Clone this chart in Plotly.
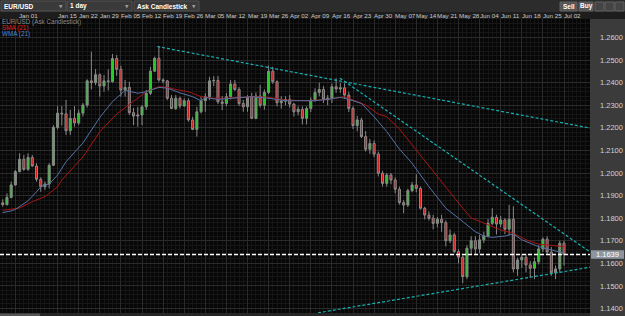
import plotly.graph_objects as go
import pandas as pd

# ---------------- data ----------------
dates = pd.bdate_range("2017-12-27", "2018-07-02")   # trading days shown

opens = [1.1868, 1.1860, 1.1892, 1.1947, 1.2006, 1.2061, 1.2016, 1.2069, 1.2031, 1.1972,
         1.1939, 1.1951, 1.2034, 1.2202, 1.2265, 1.2262, 1.2187, 1.2242, 1.2222, 1.2265,
         1.2301, 1.2408, 1.2400, 1.2435, 1.2385, 1.2408, 1.2405, 1.2507, 1.2459, 1.2367,
         1.2379, 1.2267, 1.2252, 1.2257, 1.2293, 1.2353, 1.2451, 1.2508, 1.2412, 1.2408,
         1.2331, 1.2286, 1.2331, 1.2297, 1.2320, 1.2235, 1.2193, 1.2271, 1.2320, 1.2338,
         1.2408, 1.2410, 1.2315, 1.2308, 1.2338, 1.2394, 1.2370, 1.2308, 1.2293, 1.2335,
         1.2242, 1.2341, 1.2300, 1.2357, 1.2451, 1.2404, 1.2311, 1.2318, 1.2326, 1.2305,
         1.2271, 1.2282, 1.2242, 1.2286, 1.2323, 1.2357, 1.2370, 1.2326, 1.2331, 1.2382,
         1.2372, 1.2377, 1.2345, 1.2286, 1.2210, 1.2235, 1.2161, 1.2105, 1.2131, 1.2084,
         1.1999, 1.1954, 1.1991, 1.1969, 1.1928, 1.1869, 1.1858, 1.1922, 1.1947, 1.1932,
         1.1844, 1.1814, 1.1800, 1.1777, 1.1795, 1.1780, 1.1700, 1.1726, 1.1652, 1.1627,
         1.1541, 1.1667, 1.1700, 1.1664, 1.1704, 1.1721, 1.1777, 1.1804, 1.1774, 1.1792,
         1.1751, 1.1795, 1.1575, 1.1615, 1.1627, 1.1593, 1.1578, 1.1607, 1.1664, 1.1707,
         1.1650, 1.1559, 1.1575, 1.1689]
highs = [1.1884, 1.1910, 1.1962, 1.2013, 1.2087, 1.2080, 1.2087, 1.2080, 1.2043, 1.1981,
         1.1962, 1.2043, 1.2212, 1.2296, 1.2296, 1.2323, 1.2279, 1.2296, 1.2280, 1.2310,
         1.2415, 1.2537, 1.2460, 1.2440, 1.2434, 1.2459, 1.2527, 1.2522, 1.2475, 1.2412,
         1.2404, 1.2288, 1.2293, 1.2300, 1.2367, 1.2470, 1.2515, 1.2562, 1.2419, 1.2412,
         1.2345, 1.2345, 1.2338, 1.2331, 1.2331, 1.2249, 1.2293, 1.2338, 1.2353, 1.2426,
         1.2429, 1.2430, 1.2341, 1.2354, 1.2412, 1.2412, 1.2380, 1.2323, 1.2345, 1.2355,
         1.2357, 1.2390, 1.2370, 1.2476, 1.2470, 1.2410, 1.2340, 1.2340, 1.2345, 1.2310,
         1.2295, 1.2295, 1.2295, 1.2335, 1.2375, 1.2400, 1.2385, 1.2345, 1.2396, 1.2419,
         1.2398, 1.2398, 1.2360, 1.2295, 1.2253, 1.2245, 1.2186, 1.2150, 1.2145, 1.2095,
         1.2010, 1.2000, 1.2000, 1.1980, 1.1940, 1.1880, 1.1930, 1.1960, 1.1995, 1.1940,
         1.1850, 1.1830, 1.1815, 1.1805, 1.1815, 1.1790, 1.1750, 1.1735, 1.1662, 1.1635,
         1.1680, 1.1720, 1.1720, 1.1725, 1.1740, 1.1796, 1.1844, 1.1815, 1.1810, 1.1800,
         1.1858, 1.1852, 1.1625, 1.1640, 1.1640, 1.1610, 1.1625, 1.1680, 1.1715, 1.1720,
         1.1672, 1.1590, 1.1700, 1.1700]
lows = [1.1851, 1.1856, 1.1888, 1.1944, 1.2003, 1.2010, 1.2010, 1.2028, 1.1962, 1.1917,
        1.1925, 1.1932, 1.2031, 1.2193, 1.2210, 1.2168, 1.2168, 1.2205, 1.2212, 1.2250,
        1.2290, 1.2370, 1.2389, 1.2338, 1.2360, 1.2365, 1.2400, 1.2430, 1.2338, 1.2338,
        1.2257, 1.2212, 1.2205, 1.2212, 1.2279, 1.2345, 1.2448, 1.2404, 1.2397, 1.2323,
        1.2283, 1.2279, 1.2286, 1.2293, 1.2227, 1.2190, 1.2161, 1.2264, 1.2271, 1.2323,
        1.2385, 1.2305, 1.2279, 1.2296, 1.2326, 1.2363, 1.2297, 1.2271, 1.2271, 1.2240,
        1.2238, 1.2290, 1.2280, 1.2350, 1.2395, 1.2295, 1.2285, 1.2300, 1.2290, 1.2250,
        1.2255, 1.2215, 1.2215, 1.2270, 1.2315, 1.2340, 1.2310, 1.2300, 1.2310, 1.2355,
        1.2355, 1.2330, 1.2270, 1.2195, 1.2185, 1.2155, 1.2095, 1.2085, 1.2070, 1.1985,
        1.1940, 1.1940, 1.1950, 1.1910, 1.1860, 1.1822, 1.1850, 1.1915, 1.1915, 1.1838,
        1.1795, 1.1790, 1.1750, 1.1760, 1.1740, 1.1675, 1.1690, 1.1645, 1.1600, 1.1512,
        1.1530, 1.1640, 1.1640, 1.1645, 1.1690, 1.1715, 1.1770, 1.1728, 1.1760, 1.1730,
        1.1725, 1.1560, 1.1545, 1.1580, 1.1560, 1.1535, 1.1530, 1.1595, 1.1650, 1.1640,
        1.1545, 1.1530, 1.1560, 1.1590]
closes = [1.1860, 1.1892, 1.1947, 1.2006, 1.2061, 1.2016, 1.2069, 1.2031, 1.1972, 1.1939,
          1.1951, 1.2034, 1.2202, 1.2265, 1.2262, 1.2187, 1.2242, 1.2222, 1.2265, 1.2301,
          1.2408, 1.2400, 1.2435, 1.2385, 1.2408, 1.2405, 1.2507, 1.2459, 1.2367, 1.2379,
          1.2267, 1.2252, 1.2257, 1.2293, 1.2353, 1.2451, 1.2508, 1.2412, 1.2408, 1.2331,
          1.2286, 1.2331, 1.2297, 1.2320, 1.2235, 1.2193, 1.2271, 1.2320, 1.2338, 1.2408,
          1.2410, 1.2315, 1.2308, 1.2338, 1.2394, 1.2370, 1.2308, 1.2293, 1.2335, 1.2242,
          1.2341, 1.2300, 1.2357, 1.2451, 1.2404, 1.2311, 1.2318, 1.2326, 1.2305, 1.2271,
          1.2282, 1.2242, 1.2286, 1.2323, 1.2357, 1.2370, 1.2326, 1.2331, 1.2382, 1.2372,
          1.2377, 1.2345, 1.2286, 1.2210, 1.2235, 1.2161, 1.2105, 1.2131, 1.2084, 1.1999,
          1.1954, 1.1991, 1.1969, 1.1928, 1.1869, 1.1858, 1.1922, 1.1947, 1.1932, 1.1844,
          1.1814, 1.1800, 1.1777, 1.1795, 1.1780, 1.1700, 1.1726, 1.1652, 1.1627, 1.1541,
          1.1667, 1.1700, 1.1664, 1.1704, 1.1721, 1.1777, 1.1804, 1.1774, 1.1792, 1.1751,
          1.1795, 1.1575, 1.1615, 1.1627, 1.1593, 1.1578, 1.1607, 1.1664, 1.1707, 1.1650,
          1.1559, 1.1575, 1.1689, 1.1639]

# SMA(21) and WMA(21) at sample trading-day positions
sma_pos = [0, 4, 7, 10, 13, 14, 19, 23, 27, 31, 34, 37, 39, 41, 44, 47, 50, 53, 59, 63,
           67, 72, 77, 81, 83, 86, 89, 91, 94, 98, 101, 105, 109, 111, 115, 118, 121, 124,
           127, 130, 133]
sma_val = [1.1835, 1.1845, 1.1873, 1.1895, 1.1939, 1.1969, 1.2071, 1.2183, 1.2261, 1.2319,
           1.2360, 1.2382, 1.2379, 1.2370, 1.2360, 1.2338, 1.2331, 1.2331, 1.2338, 1.2335,
           1.2323, 1.2320, 1.2326, 1.2338, 1.2323, 1.2301, 1.2261, 1.2249, 1.2195, 1.2102,
           1.2028, 1.1939, 1.1844, 1.1801, 1.1770, 1.1748, 1.1733, 1.1704, 1.1685, 1.1678,
           1.1674]
wma_pos = [0, 2, 3, 6, 8, 9, 10, 11, 13, 15, 19, 23, 26, 29, 32, 34, 37, 39, 42, 45, 47,
           48, 51, 55, 59, 63, 67, 70, 74, 77, 80, 82, 85, 88, 89, 91, 94, 97, 101, 105, 108,
           110, 112, 114, 116, 119, 121, 123, 127, 130, 132, 133]
wma_val = [1.1825, 1.1832, 1.1839, 1.1877, 1.1917, 1.1938, 1.1947, 1.1951, 1.1991, 1.2050,
           1.2133, 1.2246, 1.2316, 1.2366, 1.2353, 1.2360, 1.2379, 1.2376, 1.2355, 1.2338,
           1.2320, 1.2334, 1.2326, 1.2331, 1.2338, 1.2331, 1.2320, 1.2320, 1.2320, 1.2326,
           1.2335, 1.2326, 1.2308, 1.2249, 1.2227, 1.2183, 1.2106, 1.2043, 1.1939, 1.1844,
           1.1800, 1.1770, 1.1740, 1.1721, 1.1715, 1.1721, 1.1730, 1.1704, 1.1674, 1.1659,
           1.1652, 1.1646]

# hand-drawn trend lines (position, price) pairs
trend_upper = ([36.6, 139.2], [1.2560, 1.2199])
trend_steep = ([79.9, 139.2], [1.2420, 1.1650])
trend_lower = ([74.7, 139.2], [1.1381, 1.1583])

last_price = 1.1639

tick_labels = ["Jan 01", "Jan 15", "Jan 22", "Jan 29", "Feb 05", "Feb 12", "Feb 19", "Feb 26",
               "Mar 05", "Mar 12", "Mar 19", "Mar 26", "Apr 02", "Apr 09", "Apr 16", "Apr 23",
               "Apr 30", "May 07", "May 14", "May 21", "May 28", "Jun 04", "Jun 11", "Jun 18",
               "Jun 25", "Jul 02"]
tick_dates = ["2018-01-01", "2018-01-15", "2018-01-22", "2018-01-29", "2018-02-05",
              "2018-02-12", "2018-02-19", "2018-02-26", "2018-03-05", "2018-03-12",
              "2018-03-19", "2018-03-26", "2018-04-02", "2018-04-09", "2018-04-16",
              "2018-04-23", "2018-04-30", "2018-05-07", "2018-05-14", "2018-05-21",
              "2018-05-28", "2018-06-04", "2018-06-11", "2018-06-18", "2018-06-25",
              "2018-07-02"]

# ---------------- figure ----------------
xpos = list(range(len(dates)))
tick_pos = [dates.get_loc(pd.Timestamp(d)) for d in tick_dates]

W, H = 625, 316
L, R, T, B = 0, 35, 19, 3
pw, ph = W - L - R, H - T - B
FONT = "Liberation Sans, Arial"


def px(x):
    return (x - L) / pw


def py(y):
    return (H - B - y) / ph


fig = go.Figure()

fig.add_trace(go.Candlestick(
    x=xpos, open=opens, high=highs, low=lows, close=closes,
    increasing=dict(line=dict(color="#8a8a8a", width=1), fillcolor="#22d022"),
    decreasing=dict(line=dict(color="#8a8a8a", width=1), fillcolor="#d81818"),
    whiskerwidth=0, hoverinfo="skip"))

fig.add_trace(go.Scatter(x=sma_pos, y=sma_val, mode="lines",
                         line=dict(color="#a81414", width=1), hoverinfo="skip"))
fig.add_trace(go.Scatter(x=wma_pos, y=wma_val, mode="lines",
                         line=dict(color="#5673a6", width=1), hoverinfo="skip"))

for tx, ty in (trend_upper, trend_steep, trend_lower):
    fig.add_trace(go.Scatter(x=tx, y=ty, mode="lines",
                             line=dict(color="#19b2b2", width=1.2, dash="3px,2px"),
                             hoverinfo="skip"))

shapes = []
# top toolbar
shapes.append(dict(type="rect", xref="paper", yref="paper", x0=px(0), x1=px(W), y0=py(12), y1=py(0),
                   fillcolor="#2c2c2c", line_width=0, layer="below"))
# date row
shapes.append(dict(type="rect", xref="paper", yref="paper", x0=px(0), x1=px(W), y0=py(19), y1=py(12),
                   fillcolor="#1d1d1d", line_width=0, layer="below"))
# dropdowns
for x0, x1 in ((1, 66), (67, 132), (134, 199)):
    shapes.append(dict(type="rect", xref="paper", yref="paper", x0=px(x0), x1=px(x1),
                       y0=py(11), y1=py(1), fillcolor="#3a3a3a",
                       line=dict(color="#505050", width=1)))
# sell / buy buttons and icons
for x0, x1, c in ((560, 577, "#565656"), (579, 593, "#565656"), (595, 604, "#444444"),
                  (605, 614, "#444444"), (615, 624, "#444444")):
    shapes.append(dict(type="rect", xref="paper", yref="paper", x0=px(x0), x1=px(x1),
                       y0=py(11), y1=py(2), fillcolor=c, line=dict(color="#606060", width=1)))
# scrollbar at bottom
shapes.append(dict(type="rect", xref="paper", yref="paper", x0=px(0), x1=px(590), y0=py(316), y1=py(313),
                   fillcolor="#262626", line_width=0))
shapes.append(dict(type="rect", xref="paper", yref="paper", x0=px(0), x1=px(40), y0=py(316), y1=py(313.5),
                   fillcolor="#555555", line_width=0))
# last price line
shapes.append(dict(type="line", xref="paper", yref="y", x0=0, x1=1, y0=last_price, y1=last_price,
                   line=dict(color="#ffffff", width=1.5, dash="4px,2px")))
# last price box on axis
shapes.append(dict(type="rect", xref="paper", yref="y", x0=px(591), x1=px(624),
                   y0=last_price - 0.0019, y1=last_price + 0.0019,
                   fillcolor="#8d969f", line_width=0))

annotations = []
for k, (lab, pos) in enumerate(zip(tick_labels, tick_pos)):
    annotations.append(dict(x=pos, xref="x", y=py(15.5), yref="paper", text=lab,
                            showarrow=False, xanchor="left", yanchor="middle",
                            xshift=3 if k == 0 else -1, borderpad=0,
                            font=dict(family=FONT, size=6.2, color="#c8c8c8")))
legend_rows = [("EUR/USD (Ask Candlestick)", "#8c8c8c", 22.3),
               ("SMA (21)", "#e02020", 28.0),
               ("WMA (21)", "#4f8ad8", 33.7)]
for txt, col, yy in legend_rows:
    annotations.append(dict(x=px(1), xref="paper", y=py(yy), yref="paper", text=txt,
                            showarrow=False, xanchor="left", yanchor="middle", borderpad=0,
                            font=dict(family=FONT, size=6.3, color=col)))
for txt, xx in (("EUR/USD", 3), ("1 day", 69), ("Ask Candlestick", 136)):
    annotations.append(dict(x=px(xx), xref="paper", y=py(6), yref="paper", text="<b>" + txt + "</b>",
                            showarrow=False, xanchor="left", yanchor="middle", borderpad=0,
                            font=dict(family=FONT, size=6.5, color="#ffffff")))
for xx in (61, 127, 194):
    annotations.append(dict(x=px(xx), xref="paper", y=py(6), yref="paper", text="▼",
                            showarrow=False, xanchor="center", yanchor="middle", borderpad=0,
                            font=dict(family="DejaVu Sans", size=4.5, color="#9a9a9a")))
for txt, xx in (("Sell", 568.5), ("Buy", 586)):
    annotations.append(dict(x=px(xx), xref="paper", y=py(6.5), yref="paper", text="<b>" + txt + "</b>",
                            showarrow=False, xanchor="center", yanchor="middle", borderpad=0,
                            font=dict(family=FONT, size=6.5, color="#ffffff")))
annotations.append(dict(x=px(607.5), xref="paper", y=last_price, yref="y", text="1.1639",
                        showarrow=False, xanchor="center", yanchor="middle", borderpad=0,
                        font=dict(family=FONT, size=7.5, color="#ffffff")))

fig.update_layout(
    width=W, height=H,
    margin=dict(l=L, r=R, t=T, b=B, pad=0),
    paper_bgcolor="#3b3b3b", plot_bgcolor="#070707",
    showlegend=False, boxgap=0.3,
    shapes=shapes, annotations=annotations,
    xaxis=dict(range=[-0.649, 139.16], tickmode="array", tickvals=tick_pos,
               showticklabels=False, ticks="", showgrid=True, gridcolor="#2a2a2a", gridwidth=1,
               minor=dict(tickmode="linear", tick0=0, dtick=1, showgrid=True,
                          gridcolor="#151515", gridwidth=1),
               zeroline=False, rangeslider=dict(visible=False), fixedrange=True, showline=False),
    yaxis=dict(range=[1.13801, 1.26819], side="right", tick0=1.14, dtick=0.01,
               tickformat=".4f", showgrid=True, gridcolor="#2b2b2b", gridwidth=1,
               minor=dict(tick0=1.14, dtick=0.002, showgrid=True, gridcolor="#161616", gridwidth=1),
               ticks="", ticklabelstandoff=9, zeroline=False, showline=False, fixedrange=True,
               tickfont=dict(family=FONT, size=7.5, color="#d2d2d2")),
)

fig.write_html("out.html")
